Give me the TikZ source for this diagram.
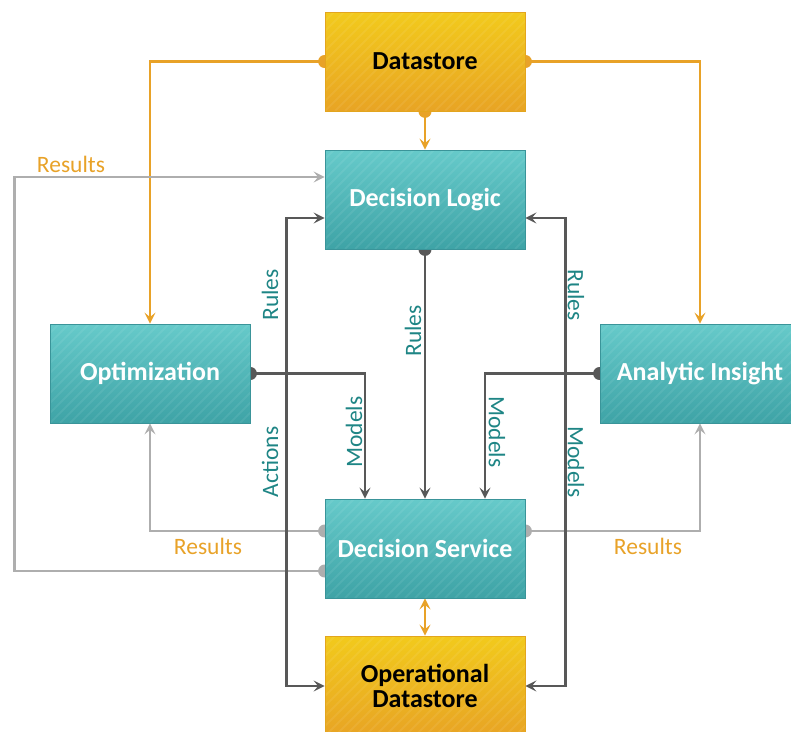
\documentclass[tikz,border=0pt]{standalone}
\usepackage{fontspec}
\setmainfont{Carlito}
\usetikzlibrary{arrows.meta,shadings}
\definecolor{orng}{HTML}{E8A228}
\definecolor{lgray}{HTML}{AEAEAE}
\definecolor{dgray}{HTML}{585858}
\definecolor{tealtxt}{HTML}{1E8585}
\definecolor{tealtop}{HTML}{66CACA}
\definecolor{tealbot}{HTML}{3EA3A6}
\definecolor{tealbord}{HTML}{3A9499}
\definecolor{yeltop}{HTML}{F2CA1C}
\definecolor{yelbot}{HTML}{E8A424}
\definecolor{yelbord}{HTML}{E3A51E}
\tikzset{
  stripes/.style={path picture={
      \foreach \k in {-20,...,20}{
        \draw[white, opacity=0.07, line width=2pt]
          ([xshift=\k*10pt]path picture bounding box.south west) -- ++(120pt,120pt);
      }}},
  box/.style={rectangle, minimum width=200pt, minimum height=99pt, line width=0.8pt,
     font=\fontsize{26}{30}\selectfont\bfseries, align=center, inner sep=2pt},
  tealbox/.style={box, stripes, draw=tealbord, top color=tealtop, bottom color=tealbot, text=white},
  yelbox/.style={box, stripes, draw=yelbord, top color=yeltop, bottom color=yelbot, text=black},
  conn/.style={line width=2.8pt, >={Stealth[length=11pt,width=11pt,inset=4.5pt]}},
  oline/.style={conn, draw=orng},
  gline/.style={conn, draw=lgray},
  kline/.style={conn, draw=dgray},
  lab/.style={font=\fontsize{23.5}{27}\selectfont, inner sep=0pt},
  olab/.style={lab, text=orng},
  tlab/.style={lab, text=tealtxt},
  dot/.style={circle, inner sep=0pt, minimum size=13pt},
}
\begin{document}
\begin{tikzpicture}[x=1pt,y=-1pt]
\useasboundingbox (0,0) rectangle (791,731);
\coordinate (cDS) at (425,61.5);
\coordinate (cDL) at (425,199.5);
\coordinate (cOPT) at (150,373.5);
\coordinate (cAI) at (700,373.5);
\coordinate (cDSV) at (425,548.5);
\coordinate (cODS) at (425,686);
% anchor placeholders
\node[box, draw=none, opacity=0] (DS) at (cDS) {};
\node[box, draw=none, opacity=0] (DL) at (cDL) {};
\node[box, draw=none, opacity=0] (OPT) at (cOPT) {};
\node[box, draw=none, opacity=0] (AI) at (cAI) {};
\node[box, draw=none, opacity=0] (DSV) at (cDSV) {};
\node[box, draw=none, opacity=0, minimum height=100pt] (ODS) at (cODS) {};

% orange connectors from Datastore
\draw[oline,->] (DS.west) -| (OPT.north);
\draw[oline,->] (DS.east) -| (AI.north);
\draw[oline,->] (DS.south) -- (DL.north);
\node[dot, fill=orng] (d1) at (DS.west) {};
\node[dot, fill=orng] (d2) at (DS.east) {};
\node[dot, fill=orng] (d3) at (DS.south) {};

% results loop to Decision Logic
\draw[gline,->] ([yshift=-22.5pt]DSV.west) coordinate (r0) -- ++(-310,0) |- ([yshift=22.5pt]DL.west);
\node[dot, fill=lgray] (d4) at (r0) {};
% results to Optimization / Analytic Insight
\draw[gline,->] ([yshift=17.5pt]DSV.west) coordinate (r1) -| (OPT.south);
\draw[gline,->] ([yshift=17.5pt]DSV.east) coordinate (r2) -| (AI.south);
\node[dot, fill=lgray] (d5) at (r1) {};
\node[dot, fill=lgray] (d6) at (r2) {};

% actions / rules loops
\draw[kline,<->] ([yshift=-18.5pt]DL.west) -- ++(-38,0) |- (ODS.west);
\draw[kline,<->] ([yshift=-18.5pt]DL.east) -- ++(40,0) |- (ODS.east);

% rules and models into Decision Service
\draw[kline,->] (DL.south) -- (DSV.north);
\draw[kline,->] (OPT.east) -| ([xshift=-60pt]DSV.north);
\draw[kline,->] (AI.west) -| ([xshift=60pt]DSV.north);
\node[dot, fill=dgray] (d7) at (DL.south) {};
\node[dot, fill=dgray] (d8) at (OPT.east) {};
\node[dot, fill=dgray] (d9) at (AI.west) {};

% DSV <-> ODS
\draw[oline,<->] (DSV.south) -- (ODS.north);

% boxes
\node[yelbox] (DSb) at (cDS) {Datastore};
\node[tealbox] (DLb) at (cDL) {Decision Logic};
\node[tealbox] (OPTb) at (cOPT) {Optimization};
\node[tealbox] (AIb) at (cAI) {Analytic Insight};
\node[tealbox] (DSVb) at (cDSV) {Decision Service};
\node[yelbox, minimum height=100pt] (ODSb) at (cODS) {Operational\\[-5pt]Datastore};

% labels
\node[olab] (l1) at (71,164) {Results};
\node[olab] (l2) at (208,546) {Results};
\node[olab] (l3) at (648,546) {Results};
\node[tlab, rotate=90] (l4) at (270,295) {Rules};
\node[tlab, rotate=90] (l5) at (270,462) {Actions};
\node[tlab, rotate=90] (l6) at (413,331) {Rules};
\node[tlab, rotate=90] (l7) at (354,432) {Models};
\node[tlab, rotate=-90] (l8) at (497,432) {Models};
\node[tlab, rotate=-90] (l9) at (576,295) {Rules};
\node[tlab, rotate=-90] (l10) at (576,462) {Models};
\end{tikzpicture}
\end{document}
